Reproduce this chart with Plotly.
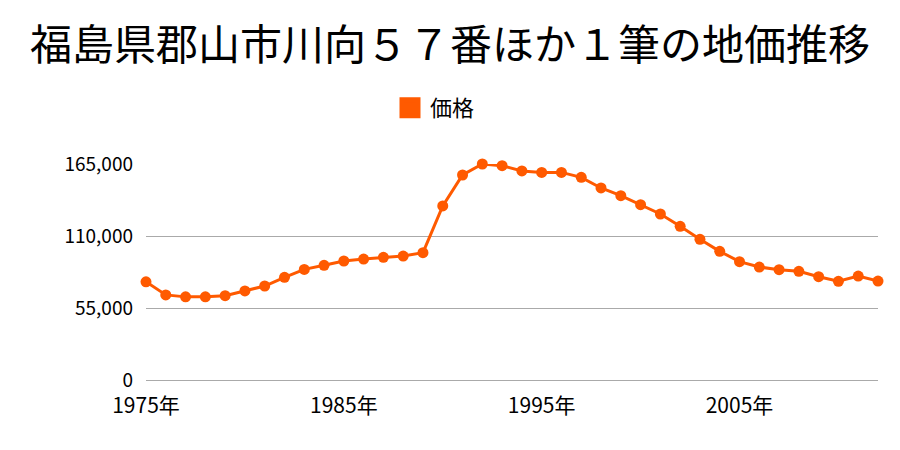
import plotly.graph_objects as go

years = list(range(1975, 2013))
prices = [75000, 65000, 63500, 63500, 64400, 68000, 71800, 78400, 84500, 87600,
          90900, 92400, 93700, 94700, 97300, 133000, 156600, 165000, 163700, 159700,
          158600, 158600, 154800, 146700, 140800, 133900, 126800, 117400, 107500, 98300,
          90400, 86300, 84300, 83000, 78900, 75400, 79400, 75600]
tick_years = [1975, 1985, 1995, 2005]
tick_text = [f"{y}年" for y in tick_years]
y_ticks = [0, 55000, 110000, 165000]
title = "福島県郡山市川向５７番ほか１筆の地価推移"
series_name = "価格"
color = "#FF5A00"
font = "Noto Sans CJK JP"

fig = go.Figure()
fig.add_trace(go.Scatter(
    x=years, y=prices, mode="lines+markers", name=series_name,
    line=dict(color=color, width=3), marker=dict(color=color, size=11),
    cliponaxis=False, showlegend=False))
fig.add_trace(go.Scatter(
    x=[None], y=[None], mode="markers", name=series_name,
    marker=dict(color=color, size=16, symbol="square",
                line=dict(color=color, width=5)), showlegend=True))

fig.update_layout(
    width=900, height=450,
    margin=dict(l=146, r=22, t=164, b=70),
    paper_bgcolor="white", plot_bgcolor="white",
    font=dict(family=font, color="#000000"),
    title=dict(text=title, x=0.5, xanchor="center", y=1 - 45 / 450, yanchor="middle",
               yref="container", font=dict(size=42, family=font, color="#000")),
    legend=dict(orientation="h", x=390 / 900, xanchor="left", y=1 - 108 / 450, yanchor="middle",
                xref="container", yref="container", font=dict(size=22, family=font)),
    xaxis=dict(range=[1975, 2012], tickvals=tick_years, ticktext=tick_text,
               showgrid=False, zeroline=False, showline=False, ticks="",
               tickfont=dict(size=21, family=font), ticklabelstandoff=11),
    yaxis=dict(range=[0, 165000], tickvals=y_ticks, tickformat=",",
               showgrid=True, gridcolor="#aaaaaa", gridwidth=1,
               zeroline=True, zerolinecolor="#aaaaaa", zerolinewidth=1,
               showline=False, ticks="", tickfont=dict(size=19, family=font),
               ticklabelstandoff=12),
)
fig.write_html("out.html")
